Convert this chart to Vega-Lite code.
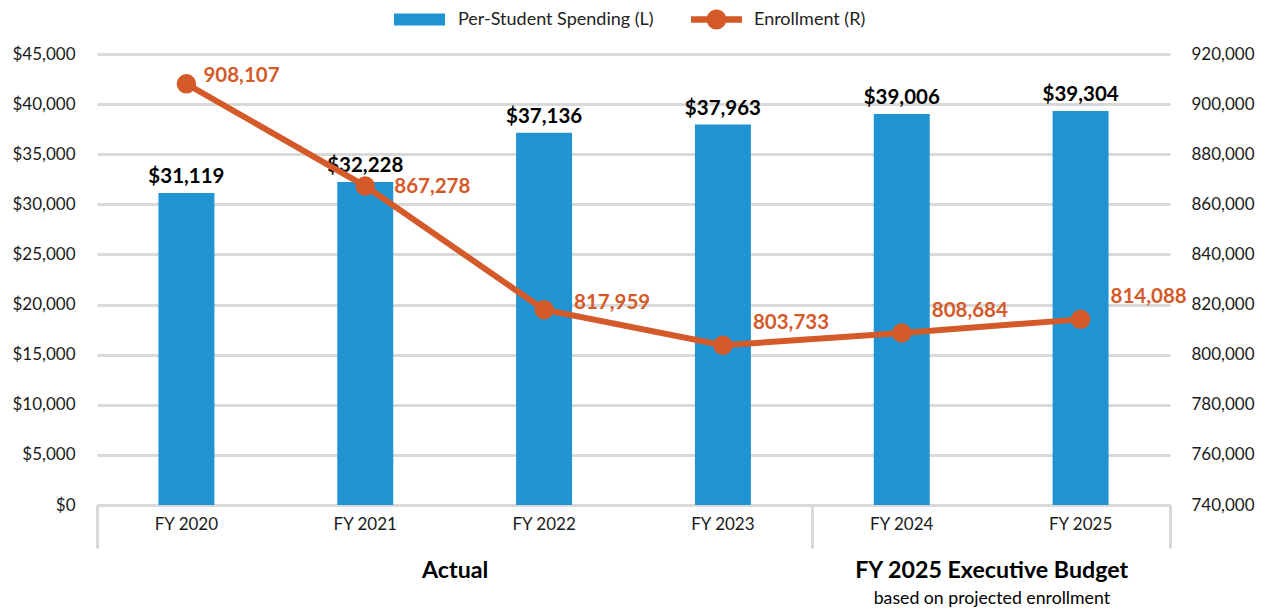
{
  "$schema": "https://vega.github.io/schema/vega-lite/v6.json",
  "width": 1073,
  "height": 451,
  "autosize": {"type": "none"},
  "padding": {"left": 97, "top": 54, "right": 95, "bottom": 104},
  "config": {"view": {"stroke": null}, "font": "Lato"},
  "datasets": {
    "years": [
      {"year": "FY 2020", "spending": 31119, "enrollment": 908107},
      {"year": "FY 2021", "spending": 32228, "enrollment": 867278},
      {"year": "FY 2022", "spending": 37136, "enrollment": 817959},
      {"year": "FY 2023", "spending": 37963, "enrollment": 803733},
      {"year": "FY 2024", "spending": 39006, "enrollment": 808684},
      {"year": "FY 2025", "spending": 39304, "enrollment": 814088}
    ],
    "groups": [
      {"group": "Actual", "mid": 2},
      {"group": "FY 2025 Executive Budget", "mid": 5}
    ]
  },
  "resolve": {"scale": {"x": "independent", "y": "independent"}, "axis": {"x": "independent", "y": "independent"}},
  "layer": [
    {
      "data": {"name": "years"},
      "resolve": {"scale": {"y": "independent"}, "axis": {"y": "independent"}},
      "layer": [
        {
          "layer": [
            {
              "mark": {"type": "bar"},
              "encoding": {
                "x": {
                  "field": "year", "type": "nominal", "sort": null,
                  "scale": {"paddingInner": 0.687, "paddingOuter": 0.3435},
                  "axis": {"title": null, "labelAngle": 0, "ticks": false, "domain": true, "domainColor": "#d9d9d9", "domainWidth": 3, "labelPadding": 11, "labelFontSize": 17, "labelColor": "#1a1a1a", "labelFont": "Lato"}
                },
                "y": {
                  "field": "spending", "type": "quantitative",
                  "scale": {"domain": [0, 45000], "nice": false, "zero": true},
                  "axis": {"title": null, "orient": "left", "values": [0, 5000, 10000, 15000, 20000, 25000, 30000, 35000, 40000, 45000], "format": "$,.0f", "domain": false, "ticks": false, "grid": true, "gridColor": "#d9d9d9", "gridWidth": 3, "labelPadding": 22, "labelFontSize": 17, "labelColor": "#1a1a1a", "labelFont": "Lato"}
                },
                "fill": {
                  "datum": "Per-Student Spending (L)",
                  "scale": {"range": ["#2094d2"]},
                  "legend": {"orient": "none", "legendX": 297, "legendY": -60, "title": null, "padding": 0, "symbolType": "M-1,-0.235H1V0.235H-1Z", "symbolSize": 2601, "symbolStrokeWidth": 0, "labelFont": "Lato", "labelFontSize": 18, "labelColor": "#222222", "labelOffset": 13, "labelLimit": 0}
                }
              }
            },
            {
              "mark": {"type": "text", "fontSize": 20.5, "fontWeight": "bold", "color": "#000000", "align": "center", "baseline": "alphabetic", "dy": -10},
              "encoding": {
                "x": {"field": "year", "type": "nominal", "sort": null},
                "y": {"field": "spending", "type": "quantitative"},
                "text": {"field": "spending", "type": "quantitative", "format": "$,.0f"}
              }
            }
          ]
        },
        {
          "layer": [
            {
              "mark": {"type": "line", "strokeWidth": 6},
              "encoding": {
                "x": {"field": "year", "type": "nominal", "sort": null},
                "y": {
                  "field": "enrollment", "type": "quantitative",
                  "scale": {"domain": [740000, 920000], "nice": false, "zero": false},
                  "axis": {"title": null, "orient": "right", "values": [740000, 760000, 780000, 800000, 820000, 840000, 860000, 880000, 900000, 920000], "format": ",.0f", "domain": false, "ticks": false, "grid": false, "labelPadding": 21, "labelFontSize": 17, "labelColor": "#1a1a1a", "labelFont": "Lato"}
                },
                "stroke": {
                  "datum": "Enrollment (R)",
                  "scale": {"range": ["#d45a2a"]},
                  "legend": {"orient": "none", "legendX": 594, "legendY": -60, "title": null, "padding": 0, "symbolType": "M-1,-0.13H1V0.13H-1Z M0.39,0A0.39,0.39 0 1,1 -0.39,0A0.39,0.39 0 1,1 0.39,0Z", "symbolSize": 2601, "labelFont": "Lato", "labelFontSize": 18, "labelColor": "#222222", "labelOffset": 12, "labelLimit": 0,
                    "encode": {"symbols": {"update": {"fill": {"value": "#d45a2a"}, "strokeWidth": {"value": 0}, "opacity": {"value": 1}}}}}
                }
              }
            },
            {
              "mark": {"type": "point", "shape": "circle", "filled": true, "size": 380, "color": "#d45a2a", "opacity": 1},
              "encoding": {
                "x": {"field": "year", "type": "nominal", "sort": null},
                "y": {"field": "enrollment", "type": "quantitative"}
              }
            },
            {
              "transform": [{"filter": "datum.year == 'FY 2020'"}],
              "mark": {"type": "text", "fontSize": 20.5, "fontWeight": "bold", "color": "#d45a2a", "align": "left", "baseline": "middle", "dx": 17, "dy": -8},
              "encoding": {
                "x": {"field": "year", "type": "nominal", "sort": null},
                "y": {"field": "enrollment", "type": "quantitative"},
                "text": {"field": "enrollment", "type": "quantitative", "format": ",.0f"}
              }
            },
            {
              "transform": [{"filter": "datum.year == 'FY 2021'"}],
              "mark": {"type": "text", "fontSize": 20.5, "fontWeight": "bold", "color": "#d45a2a", "align": "left", "baseline": "middle", "dx": 29, "dy": 1},
              "encoding": {
                "x": {"field": "year", "type": "nominal", "sort": null},
                "y": {"field": "enrollment", "type": "quantitative"},
                "text": {"field": "enrollment", "type": "quantitative", "format": ",.0f"}
              }
            },
            {
              "transform": [{"filter": "datum.year == 'FY 2022'"}],
              "mark": {"type": "text", "fontSize": 20.5, "fontWeight": "bold", "color": "#d45a2a", "align": "left", "baseline": "middle", "dx": 30, "dy": -7},
              "encoding": {
                "x": {"field": "year", "type": "nominal", "sort": null},
                "y": {"field": "enrollment", "type": "quantitative"},
                "text": {"field": "enrollment", "type": "quantitative", "format": ",.0f"}
              }
            },
            {
              "transform": [{"filter": "datum.year == 'FY 2023' || datum.year == 'FY 2024' || datum.year == 'FY 2025'"}],
              "mark": {"type": "text", "fontSize": 20.5, "fontWeight": "bold", "color": "#d45a2a", "align": "left", "baseline": "middle", "dx": 30, "dy": -22},
              "encoding": {
                "x": {"field": "year", "type": "nominal", "sort": null},
                "y": {"field": "enrollment", "type": "quantitative"},
                "text": {"field": "enrollment", "type": "quantitative", "format": ",.0f"}
              }
            }
          ]
        }
      ]
    },
    {
      "data": {"name": "groups"},
      "mark": {"type": "text", "opacity": 0},
      "encoding": {
        "x": {
          "field": "mid", "type": "quantitative",
          "scale": {"domain": [0, 6], "nice": false, "zero": true},
          "axis": {
            "title": null, "orient": "bottom", "domain": false, "grid": false,
            "values": [0, 2, 4, 5, 5.001, 6],
            "labelExpr": "datum.value == 2 ? 'Actual' : datum.value == 5 ? 'FY 2025 Executive Budget' : (datum.value > 5 && datum.value < 5.5) ? 'based on projected enrollment' : ''",
            "labelOverlap": false, "labelBound": false, "labelFlush": false, "labelLimit": 0,
            "ticks": true, "tickColor": "#d9d9d9", "tickWidth": 3, "tickSize": 43,
            "tickOpacity": {"condition": {"test": "datum.value == 0 || datum.value == 4 || datum.value == 6", "value": 1}, "value": 0},
            "labelFont": "Lato", "labelColor": "#000000",
            "labelFontSize": {"condition": {"test": "datum.value > 5 && datum.value < 5.5", "value": 17.7}, "value": 23.2},
            "labelFontWeight": {"condition": {"test": "datum.value > 5 && datum.value < 5.5", "value": "normal"}, "value": "bold"},
            "labelPadding": {"condition": {"test": "datum.value > 5 && datum.value < 5.5", "value": 41}, "value": 11}
          }
        },
        "text": {"field": "group"}
      }
    }
  ]
}
